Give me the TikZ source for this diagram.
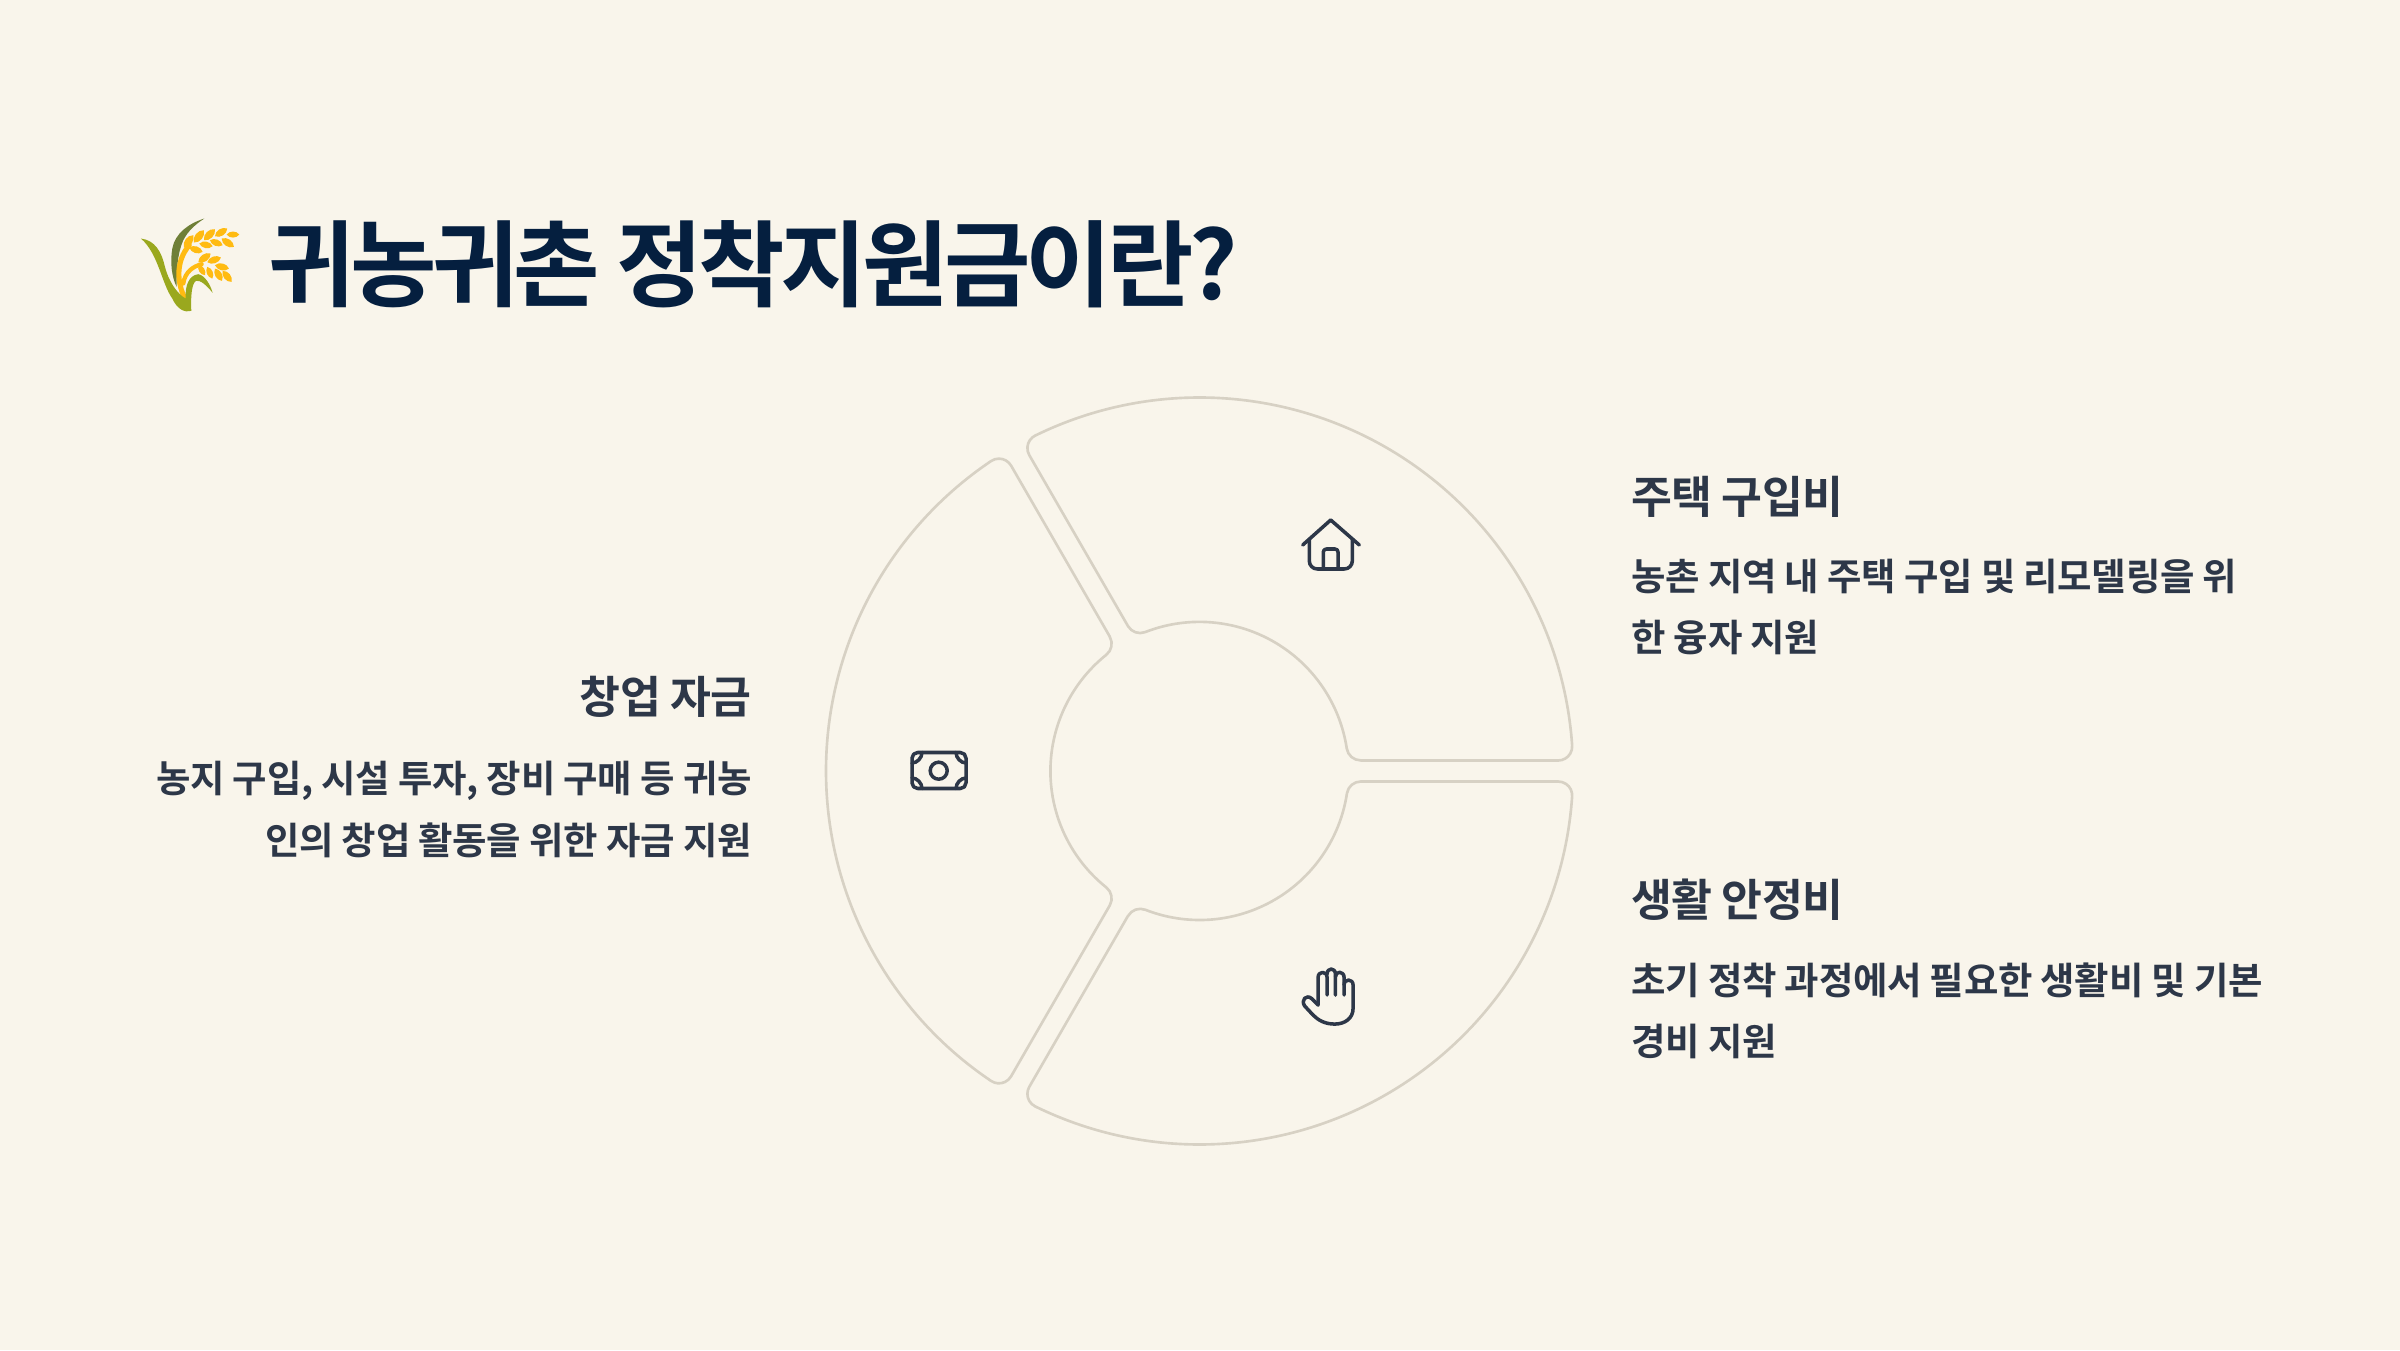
\documentclass[tikz,border=0pt]{standalone}
\usepackage{fontspec}
\newfontfamily\titlef[LetterSpace=-5.0]{Noto Sans CJK KR Bold}
\newfontfamily\headf[LetterSpace=-1.5]{Noto Sans CJK KR Bold}
\newfontfamily\bodyf[LetterSpace=-0.8]{Noto Sans CJK KR Bold}
\definecolor{bg}{HTML}{F9F5EB}
\definecolor{titlec}{HTML}{051F3F}
\definecolor{textc}{HTML}{2D3748}
\definecolor{linec}{HTML}{D7D1C4}
\definecolor{riceg}{HTML}{9AA81E}
\definecolor{riced}{HTML}{6F7F37}
\definecolor{riceo}{HTML}{FFBB12}
\tikzset{
  titlet/.style={anchor=base west,inner sep=0pt,text=titlec,font=\titlef\fontsize{53.5}{60}\selectfont},
  headt/.style={inner sep=0pt,text=textc,font=\headf\fontsize{25.3}{30}\selectfont},
  bodyt/.style={inner sep=0pt,text=textc,font=\bodyf\fontsize{21.3}{26}\selectfont},
  sectorline/.style={draw=linec,line width=1.5pt,line join=round},
  icon/.style={draw=textc,line width=2pt,line cap=round,line join=round},
  grain/.style={fill=riceo,draw=none}
}
\newcommand{\sectorpath}[1]{%
  \begin{scope}[shift={(1199.5,579)},rotate=#1]
  \draw[sectorline] (161.3,10.5) -- (358.66,10.5)
    arc[start angle=-90,end angle=3.908,radius=14]
    arc[start angle=3.908,end angle=116.092,radius=373.5]
    arc[start angle=116.092,end angle=210,radius=14]
    -- ++(300:197.36)
    arc[start angle=210,end angle=291.36,radius=14]
    arc[start angle=111.36,end angle=8.64,radius=149]
    arc[start angle=188.64,end angle=270,radius=14] -- cycle;
  \end{scope}}
\begin{document}
\begin{tikzpicture}[x=0.02cm,y=0.02cm]
\useasboundingbox[fill=bg] (0,0) rectangle (2400,1350);
% sectors
\sectorpath{0}
\sectorpath{120}
\sectorpath{240}
% rice emoji
\begin{scope}[xshift=2.4cm,yshift=23.2cm,x=0.02cm/3,y=-0.02cm/3]
  \fill[riced] (253,85) .. controls (205,100) and (165,130) .. (157,175) .. controls (150,215) and (155,260) .. (170,290) .. controls (170,240) and (172,190) .. (190,150) .. controls (205,120) and (230,100) .. (253,85) -- cycle;
  \draw[riceo,line width=2.9pt,line cap=round] (195,325) .. controls (172,280) and (165,215) .. (208,165);
  \draw[riceo,line width=2.4pt,line cap=round] (190,280) .. controls (195,245) and (220,228) .. (245,222);
  \fill[riceg] (63,145) .. controls (105,150) and (125,185) .. (135,230) .. controls (145,270) and (170,310) .. (197,325) .. controls (195,290) and (205,255) .. (235,252) .. controls (255,255) and (272,285) .. (278,308) .. controls (260,285) and (240,268) .. (228,272) .. controls (215,280) and (212,320) .. (214,362) .. controls (195,368) and (172,358) .. (157,325) .. controls (125,280) and (115,190) .. (63,145) -- cycle;
  \foreach \bx/\by/\tx/\ty in {192/172/220/135,222/157/252/120,252/150/285/117,285/138/322/115,320/133/358/133,305/145/342/170,270/150/308/165,238/160/278/168,208/172/248/185,235/216/272/190,262/216/303/202,285/225/327/235,236/225/255/255,262/230/277/265,285/235/306/272,308/242/335/275}{
    \fill[grain] (\bx,\by) to[bend left=55] (\tx,\ty) to[bend left=55] (\bx,\by) -- cycle;
  }
\end{scope}
% title
\node[titlet] (title) at (268,1050) {귀농귀촌 정착지원금이란?};
% house and money icons
\begin{scope}[shift={(0,1350)},y=-0.02cm]
  \draw[icon] (1302.7,545) -- (1330.7,520) -- (1359.3,545);
  \draw[icon] (1309.3,539) -- (1309.3,561) arc[start angle=180,end angle=90,radius=8] -- (1344.3,569) arc[start angle=90,end angle=0,radius=8] -- (1352.3,539);
  \draw[icon] (1323.3,569) -- (1323.3,552) arc[start angle=180,end angle=270,radius=3] -- (1335,549) arc[start angle=270,end angle=360,radius=3] -- (1338,569);
  \draw[icon,rounded corners=3.2pt] (912,752.5) rectangle (966,788.5);
  \draw[icon] (938.7,770.7) circle[radius=8.5];
  \draw[icon] (922,752.5) .. controls (922,758) and (917,763) .. (912,763);
  \draw[icon] (956,752.5) .. controls (956,758) and (961,763) .. (966,763);
  \draw[icon] (922,788.5) .. controls (922,783) and (917,778) .. (912,778);
  \draw[icon] (956,788.5) .. controls (956,783) and (961,778) .. (966,778);
\end{scope}
% hand icon
\begin{scope}[xshift=25.6cm,yshift=8cm,x=0.02cm/3,y=-0.02cm/3]
  \draw[icon] (115,165) -- (115,82) .. controls (115,62) and (142,62) .. (142,82) -- (142,135);
  \draw[icon] (142,72) .. controls (142,52) and (167,52) .. (167,72) -- (167,135);
  \draw[icon] (167,80) .. controls (167,62) and (193,62) .. (193,82) -- (193,135);
  \draw[icon] (193,105) .. controls (193,85) and (220,85) .. (220,105) -- (220,175) .. controls (220,205) and (195,222) .. (165,222) .. controls (135,222) and (115,210) .. (100,195) -- (75,168) .. controls (62,150) and (80,132) .. (95,145) -- (115,165);
\end{scope}
% texts
\node[headt,anchor=base west] (h1) at (1631,836) {주택 구입비};
\node[bodyt,anchor=base west] (b1a) at (1631,759) {농촌 지역 내 주택 구입 및 리모델링을 위};
\node[bodyt,anchor=base west] (b1b) at (1631,698) {한 융자 지원};
\node[headt,anchor=base west] (h2) at (1631,434) {생활 안정비};
\node[bodyt,anchor=base west] (b2a) at (1631,356) {초기 정착 과정에서 필요한 생활비 및 기본};
\node[bodyt,anchor=base west] (b2b) at (1631,295) {경비 지원};
\node[headt,anchor=base east] (h3) at (752,636) {창업 자금};
\node[bodyt,anchor=base east] (b3a) at (752,557) {농지 구입, 시설 투자, 장비 구매 등 귀농};
\node[bodyt,anchor=base east] (b3b) at (752,496) {인의 창업 활동을 위한 자금 지원};
\end{tikzpicture}
\end{document}
